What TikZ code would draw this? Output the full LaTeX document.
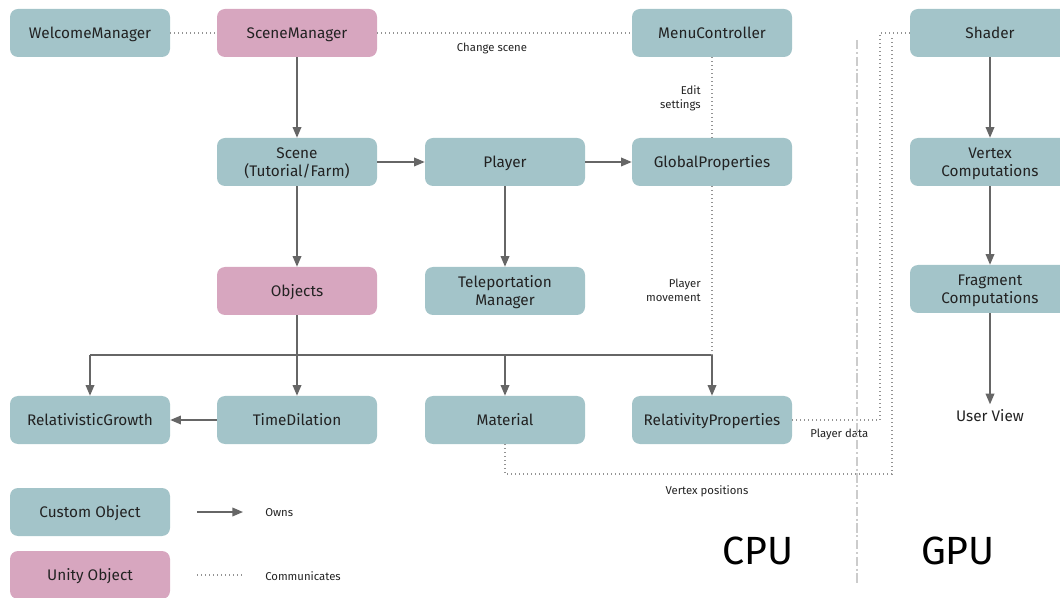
\documentclass[tikz,border=0pt]{standalone}
\usepackage{fontspec}
\setmainfont{Fira Sans}
\usetikzlibrary{arrows.meta}
\definecolor{custom}{HTML}{A3C4C9}
\definecolor{unity}{HTML}{D7A6BF}
\definecolor{link}{HTML}{666666}
\definecolor{ink}{HTML}{222222}
\begin{document}
\begin{tikzpicture}[x=0.75pt,y=-0.75pt,
  box/.style={rounded corners=6pt, minimum width=120pt, minimum height=36pt,
    align=center, font=\fontsize{11.5}{13.5}\selectfont, text=ink, inner sep=0pt,
    text depth=0pt},
  cbox/.style={box, fill=custom},
  ubox/.style={box, fill=unity},
  ownline/.style={draw=link, line width=1.1pt},
  owns/.style={ownline, -{Triangle[length=8pt,width=6.5pt]}},
  comm/.style={draw=gray!85, line width=0.9pt, dash pattern=on 0.9pt off 2.1pt},
  lbl/.style={font=\fontsize{8.5}{10.5}\selectfont, text=ink, inner sep=0pt},
  big/.style={font=\fontsize{29.5}{31}\selectfont, text=black}]
\useasboundingbox (0,0) rectangle (1060,598);

% CPU side
\node[cbox] (welcome)  at (90,33)   {WelcomeManager};
\node[ubox] (scenemgr) at (297,33)  {SceneManager};
\node[cbox] (menu)     at (712,33)  {MenuController};
\node[cbox] (scene)    at (297,162) {Scene\\(Tutorial/Farm)};
\node[cbox] (player)   at (505,162) {Player};
\node[cbox] (global)   at (712,162) {GlobalProperties};
\node[ubox] (objects)  at (297,291) {Objects};
\node[cbox] (teleport) at (505,291) {Teleportation\\Manager};
\node[cbox] (growth)   at (90,420)  {RelativisticGrowth};
\node[cbox] (dilation) at (297,420) {TimeDilation};
\node[cbox] (material) at (505,420) {Material};
\node[cbox] (relprops) at (712,420) {RelativityProperties};

% GPU side
\node[cbox] (shader)   at (990,33)  {Shader};
\node[cbox] (vertex)   at (990,162) {Vertex\\Computations};
\node[cbox] (fragment) at (990,289) {Fragment\\Computations};
\node[font=\fontsize{11.5}{13.5}\selectfont, text=ink, inner sep=4pt] (userview) at (990,416) {User View};

% ownership
\draw[owns] (scenemgr) -- (scene);
\draw[owns] (scene) -- (player);
\draw[owns] (player) -- (global);
\draw[owns] (scene) -- (objects);
\draw[owns] (player) -- (teleport);
\coordinate (split) at (297,355);
\coordinate (busL) at (90,355);
\coordinate (busR) at (712,355);
\draw[ownline] (objects) -- (split);
\draw[ownline] (busL) -- (busR);
\draw[owns] (busL) -- (growth);
\draw[owns] (split) -- (dilation);
\draw[owns] (material |- busL) -- (material);
\draw[owns] (busR) -- (relprops);
\draw[owns] (dilation) -- (growth);
\draw[owns] (shader) -- (vertex);
\draw[owns] (vertex) -- (fragment);
\draw[owns] (fragment) -- (userview);

% communication
\draw[comm] (welcome) -- (scenemgr);
\draw[comm] (scenemgr) -- (menu);
\draw[comm] (menu) -- (global);
\draw[comm] (global) -- (busR);
\coordinate (pdTop) at (880,33);
\draw[comm] (relprops.east) -| (pdTop) -- (shader.west);
\coordinate (vpCorner) at (892,474);
\coordinate (vpTop) at (892,35);
\draw[comm] (material.south) |- (vpCorner) -- (vpTop);

% connector labels
\node[lbl] (lchange) at (492,48) {Change scene};
\node[lbl, align=right, anchor=east] (ledit) at (701,98) {Edit\\settings};
\node[lbl, align=right, anchor=east] (lmove) at (701,290) {Player\\movement};
\node[lbl, anchor=west] (lpdata) at (810,434) {Player data};
\node[lbl] (lvpos) at (707,491) {Vertex positions};

% CPU / GPU divider
\coordinate (divTop) at (857,40);
\coordinate (divBot) at (857,583);
\draw[gray!40, line width=1.1pt, dash pattern=on 7pt off 2pt on 1.5pt off 2pt] (divTop) -- (divBot);
\node[big] (cpu) at (758,551) {CPU};
\node[big] (gpu) at (958,551) {GPU};

% legend
\node[cbox] (legc) at (90,512) {Custom Object};
\node[ubox] (legu) at (90,575) {Unity Object};
\coordinate (oA) at (197,512);
\coordinate (oB) at (243,512);
\draw[owns] (oA) -- (oB);
\node[lbl, anchor=west] (lowns) at (265,513) {Owns};
\coordinate (cA) at (197,575);
\coordinate (cB) at (242,575);
\draw[comm] (cA) -- (cB);
\node[lbl, anchor=west] (lcomm) at (265,576) {Communicates};
\end{tikzpicture}
\end{document}
